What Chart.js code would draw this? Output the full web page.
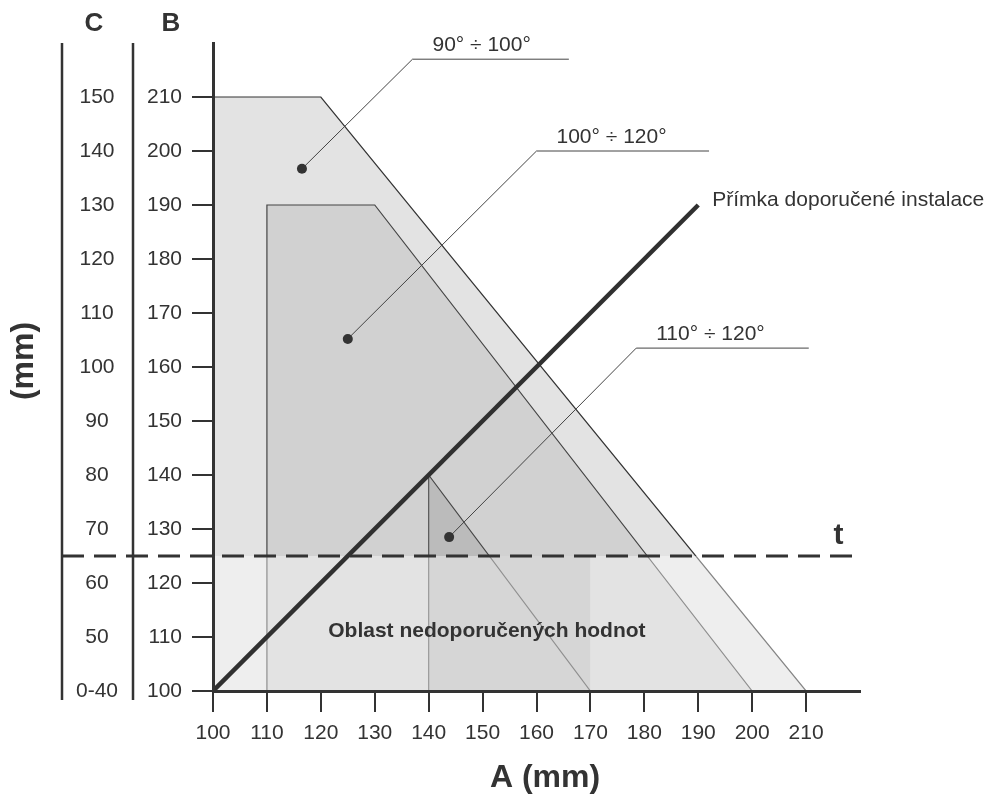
<!DOCTYPE html>
<html>
<head>
<meta charset="utf-8">
<script src="https://cdn.jsdelivr.net/npm/chart.js@4.4.1/dist/chart.umd.min.js"></script>
<style>
  html, body { margin: 0; padding: 0; background: #fff; }
</style>
</head>
<body>
<canvas id="chart" width="994" height="798"></canvas>
<script>
// tick values of the A and B axes, labels of the C column
const aTicks = [100, 110, 120, 130, 140, 150, 160, 170, 180, 190, 200, 210];
const bTicks = [100, 110, 120, 130, 140, 150, 160, 170, 180, 190, 200, 210];
const cLabels = ['0-40', '50', '60', '70', '80', '90', '100', '110', '120', '130', '140', '150'];

// zones (A values, B values)
const zone90A = [100, 120, 210];
const zone90B = [210, 210, 100];
const zone100A = [110, 110, 130, 200];
const zone100B = [100, 190, 190, 100];
const zone110A = [140, 170];
const zone110B = [140, 100];
const lowBlockA = [140, 170];
const lowBlockB = [125, 125];
const edge140A = [140, 140];
const edge140B = [100, 140];

// recommended installation line
const installA = [100, 190];
const installB = [100, 190];

// threshold t
const tLevel = 125;

// callouts: dot, elbow, end of shelf
const calloutLabels = ['90° ÷ 100°', '100° ÷ 120°', '110° ÷ 120°'];
const calloutA = [[116.5, 137, 166], [125, 160, 192], [143.8, 178.5, 210.5]];
const calloutB = [[196.7, 217, 217], [165.2, 200, 200], [128.5, 163.5, 163.5]];

const FONT = '"Liberation Sans", Arial, Helvetica, sans-serif';
const INK = '#333';

function pts(xs, ys) {
  return xs.map((v, i) => ({ x: v, y: ys[i] }));
}

const datasets = [
  { data: pts(zone90A, zone90B), fill: 'start', backgroundColor: '#e3e3e3', borderColor: '#333', borderWidth: 1.2, order: 20 },
  { data: pts(zone100A, zone100B), fill: 'start', backgroundColor: '#d1d1d1', borderColor: '#444', borderWidth: 1.2, order: 19 },
  { data: pts(lowBlockA, lowBlockB), fill: 'start', backgroundColor: '#bbbbbb', borderWidth: 0, order: 18 },
  { data: pts(zone110A, zone110B), fill: 'start', backgroundColor: '#bbbbbb', borderColor: '#444', borderWidth: 1.2, order: 17 },
  { data: pts(edge140A, edge140B), fill: false, borderColor: '#555', borderWidth: 1.2, order: 16 },
  // lighter "not recommended" band below t
  { data: pts([100, 220], [tLevel, tLevel]), fill: 'start', backgroundColor: 'rgba(255,255,255,0.4)', borderWidth: 0, order: 15 },
  { data: pts(installA, installB), fill: false, borderColor: '#303030', borderWidth: 4.5, order: 10 }
];

calloutLabels.forEach((lbl, i) => {
  datasets.push({
    data: pts(calloutA[i], calloutB[i]),
    fill: false,
    borderColor: '#444',
    borderWidth: 1,
    pointRadius: [5, 0, 0],
    pointBackgroundColor: '#333',
    pointBorderWidth: 0,
    order: 5 - i
  });
});

const extras = {
  id: 'extras',
  afterDatasetsDraw(chart) {
    const { ctx, chartArea, scales: { y } } = chart;
    const ty = y.getPixelForValue(tLevel);
    ctx.save();
    ctx.strokeStyle = INK;
    ctx.lineWidth = 3;
    ctx.setLineDash([22, 10]);
    ctx.beginPath();
    ctx.moveTo(62, ty);
    ctx.lineTo(chartArea.right, ty);
    ctx.stroke();
    ctx.restore();
  },
  afterDraw(chart) {
    const { ctx, chartArea, scales: { x, y } } = chart;
    ctx.save();
    ctx.fillStyle = INK;
    ctx.strokeStyle = INK;

    // C and B columns
    ctx.lineWidth = 2.5;
    [62, 133].forEach(px => {
      ctx.beginPath();
      ctx.moveTo(px, chartArea.top);
      ctx.lineTo(px, chartArea.bottom + 9);
      ctx.stroke();
    });
    ctx.font = 'bold 26px ' + FONT;
    ctx.textAlign = 'center';
    ctx.textBaseline = 'middle';
    ctx.fillText('C', 94, 24);
    ctx.fillText('B', 171, 24);

    ctx.font = '21px ' + FONT;
    cLabels.forEach((lbl, i) => {
      ctx.fillText(lbl, 97, y.getPixelForValue(bTicks[i]));
    });

    // axis titles
    ctx.font = 'bold 32px ' + FONT;
    ctx.fillText('A (mm)', 545, 778);
    ctx.save();
    ctx.translate(24, 361);
    ctx.rotate(-Math.PI / 2);
    ctx.fillText('(mm)', 0, 0);
    ctx.restore();

    // callout texts
    ctx.font = '21px ' + FONT;
    ctx.textAlign = 'left';
    ctx.textBaseline = 'alphabetic';
    calloutLabels.forEach((lbl, i) => {
      const ex = x.getPixelForValue(calloutA[i][1]);
      const ey = y.getPixelForValue(calloutB[i][1]);
      ctx.fillText(lbl, ex + 20, ey - 8);
    });

    // installation line label
    ctx.textBaseline = 'middle';
    ctx.fillText('Přímka doporučené instalace',
      x.getPixelForValue(installA[1]) + 14, y.getPixelForValue(installB[1]) - 5);

    // t label
    ctx.font = 'bold 30px ' + FONT;
    ctx.textAlign = 'center';
    ctx.fillText('t', x.getPixelForValue(216), y.getPixelForValue(tLevel) - 20);

    // zone below t
    ctx.font = 'bold 21px ' + FONT;
    ctx.fillText('Oblast nedoporučených hodnot', x.getPixelForValue(150.8), y.getPixelForValue(111.1));
    ctx.restore();
  }
};

new Chart(document.getElementById('chart'), {
  type: 'scatter',
  data: { datasets: datasets },
  options: {
    responsive: false,
    animation: false,
    showLine: true,
    layout: { padding: { top: 43, right: 134, bottom: 0, left: 0 } },
    elements: { point: { radius: 0 }, line: { tension: 0 } },
    plugins: { legend: { display: false }, tooltip: { enabled: false } },
    scales: {
      x: {
        type: 'linear',
        min: 100,
        max: 220,
        afterBuildTicks: s => { s.ticks = aTicks.map(v => ({ value: v })); },
        afterFit: s => { s.height = 107; },
        grid: { drawOnChartArea: false, drawTicks: true, tickLength: 21, color: INK, lineWidth: 2, z: 1 },
        border: { color: INK, width: 3, z: 1 },
        ticks: { color: INK, font: { family: FONT, size: 21 }, padding: 9, maxRotation: 0, autoSkip: false }
      },
      y: {
        type: 'linear',
        min: 100,
        max: 220,
        afterBuildTicks: s => { s.ticks = bTicks.map(v => ({ value: v })); },
        afterFit: s => { s.width = 213; },
        grid: { drawOnChartArea: false, drawTicks: true, tickLength: 21, color: INK, lineWidth: 2, z: 1 },
        border: { color: INK, width: 3, z: 1 },
        ticks: { color: INK, font: { family: FONT, size: 21 }, padding: 10, autoSkip: false }
      }
    }
  },
  plugins: [extras]
});
</script>
</body>
</html>
